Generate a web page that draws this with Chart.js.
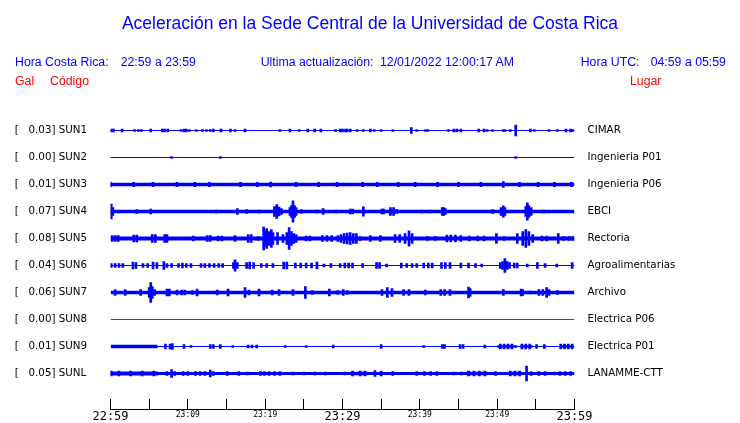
<!DOCTYPE html>
<html>
<head>
<meta charset="utf-8">
<script src="https://cdn.jsdelivr.net/npm/chart.js@4.4.1/dist/chart.umd.min.js"></script>
<style>
  body { margin: 0; background: #fff; }
  #wrap { position: relative; width: 740px; height: 423px; overflow: hidden; }
  #wrap canvas { position: absolute; left: 0; top: 0; }
  .t { position: absolute; white-space: pre; line-height: 1; font-family: "Liberation Sans", Arial, sans-serif; font-size: 12.3px; }
  .blue { color: #0000ff; }
  .red { color: #ff0000; }
  #title { left: 0; width: 740px; text-align: center; top: 14.5px; font-size: 17.5px; }
</style>
</head>
<body>
<div id="wrap">
  <canvas id="sismoChart" width="740" height="423"></canvas>
  <div class="t blue" id="title">Aceleración en la Sede Central de la Universidad de Costa Rica</div>
  <div class="t blue" style="left:15px;top:55.6px">Hora Costa Rica:</div>
  <div class="t blue" style="left:120.7px;top:55.6px">22:59 a 23:59</div>
  <div class="t blue" style="left:260.7px;top:55.6px">Ultima actualización:</div>
  <div class="t blue" style="left:380px;top:55.6px">12/01/2022 12:00:17 AM</div>
  <div class="t blue" style="left:580.7px;top:55.6px">Hora UTC:</div>
  <div class="t blue" style="left:650.7px;top:55.6px">04:59 a 05:59</div>
  <div class="t red" style="left:15px;top:74.6px">Gal</div>
  <div class="t red" style="left:50px;top:74.6px">Código</div>
  <div class="t red" style="left:630px;top:74.6px">Lugar</div>
</div>
<script>
// estaciones (de arriba hacia abajo)
const codes = ['SUN1', 'SUN2', 'SUN3', 'SUN4', 'SUN5', 'SUN6', 'SUN7', 'SUN8', 'SUN9', 'SUNL'];
const peakGal = [0.03, 0.00, 0.01, 0.07, 0.08, 0.04, 0.06, 0.00, 0.01, 0.05];
const places = ['CIMAR', 'Ingenieria P01', 'Ingenieria P06', 'EBCI', 'Rectoria', 'Agroalimentarias',
  'Archivo', 'Electrica P06', 'Electrica P01', 'LANAMME-CTT'];
const timeLabels = ['22:59', '23:09', '23:19', '23:29', '23:39', '23:49', '23:59'];

// nivel de ruido de fondo (media amplitud) por estacion
const noise = [0, 0, 1.8, 1.7, 1.9, 0, 1.7, 0, 0, 1.5];

// tramos de ruido continuo: [minuto inicio, minuto fin, media amplitud]
const sun9Bursts = [[0, 6.1, 1.7], [50.0, 52.6, 1.3], [53.0, 54.6, 1.3], [58.3, 59.9, 1.3]];
const sunlBursts = [[0, 6.2, 2.0], [31.0, 33.3, 1.8], [46.0, 48.8, 1.8], [51.5, 53.2, 1.8]];

// eventos: [minuto desde 22:59, media amplitud]
const sun1Events = [[0.1,1.5],[0.4,1.5],[1.5,1.5],[3.1,1],[3.6,1],[4.0,1],[5.2,1.5],[6.7,1.5],[7.0,1.5],[7.4,1.5],
  [9.1,1],[9.5,1.5],[9.8,1.5],[10.2,1],[11.1,1],[11.9,1],[12.4,1],[12.9,1],[13.3,1.5],[14.3,1.5],[15.5,1.5],[16.1,1],
  [17.4,1.5],[21.9,1],[23.2,1.5],[24.4,1],[25.5,1.5],[26.4,1.5],[27.2,1.5],[29.1,1],[29.7,1.5],[30.0,1.5],[30.4,1.5],
  [30.6,1.5],[31.0,1.5],[31.9,1],[32.7,1],[33.6,1.5],[34.1,1],[35.0,1],[36.5,1],[38.9,3],[39.6,1],[40.7,1],[41.0,1],
  [43.7,1],[44.4,1.5],[44.8,1.5],[45.3,1.5],[47.6,1.5],[48.3,1.5],[48.7,1],[49.4,1],[50.8,1],[51.0,1],[51.7,1],
  [52.4,5.5],[54.3,1.5],[54.8,1],[56.7,1],[57.8,1],[58.9,1.5],[59.5,1.5],[59.8,1]];
const sun2Events = [[7.9,1],[14.2,1],[52.4,1]];
const sun3Events = [[0,2.1],[3.0,2.1],[5.5,2.1],[8.6,2.1],[10.9,2.1],[12.8,2.1],[16.8,2.1],[19.0,2.1],[20.7,2.5],
  [24.0,2.1],[26.9,2.1],[29.3,2.1],[32.6,2.1],[34.5,2.1],[37.2,2.1],[39.4,2.1],[42.3,2.1],[45.0,2.1],[47.9,2.1],
  [50.8,3],[52.9,2.1],[55.3,2.1],[57.4,2.1],[59.6,2.1]];
const sun4Events = [[0.1,7.3],[0.3,4],[3.4,2],[5.2,2.5],[13.7,1.5],[16.4,3],[17.6,2],[19.2,1.5],[21.2,5],[21.5,7],
  [21.8,4.5],[22.1,3],[23.2,4],[23.4,6],[23.6,10.7],[23.8,6],[24.0,4],[24.7,2],[26.7,1.5],[27.5,3],[29.2,1.5],
  [31.0,2.5],[31.3,2.5],[32.7,4.7],[35.1,2.5],[35.3,2.5],[36.2,4],[36.6,4],[37.0,2],[40.2,1.3],[41.3,1.3],[42.9,4],
  [43.1,4],[43.3,3],[48.2,1.2],[49.4,2],[50.5,4],[50.8,5.7],[51.0,4],[52.4,1.2],[53.7,5],[53.9,8.7],[54.1,6],
  [54.4,4],[56.0,1.5],[59.7,1.2]];
const sun5Events = [[0.2,3],[0.6,3],[1.0,3],[3.0,3.5],[3.4,3.5],[5.4,4],[5.8,4],[7.0,4],[7.3,4],[10.7,2.5],[12.5,3],
  [12.9,3],[13.9,2.5],[14.4,2.5],[16.1,3],[17.8,4],[18.2,4],[19.1,2],[19.8,11.5],[20.0,8],[20.2,10],[20.5,7],
  [20.8,9],[21.0,6],[21.6,6],[22.3,4],[22.8,6],[23.1,11],[23.4,7],[23.7,5],[24.0,4],[25.3,2.5],[25.8,2.5],[27.4,3],
  [28.0,3],[28.6,3],[29.4,3],[29.8,4],[30.2,5],[30.6,5.5],[31.0,6],[31.4,5],[31.8,5],[32.3,2],[33.6,3],[34.9,3],
  [36.8,4],[37.4,4],[38.1,5],[38.6,7.7],[39.0,5],[41.0,2],[42.0,2],[43.5,3.5],[44.0,3.5],[44.6,3.5],[45.3,3],
  [46.4,2.5],[47.5,2.5],[48.3,2.5],[49.9,5],[50.9,2],[52.6,5],[53.3,7],[53.7,9],[54.1,7],[54.6,4],[55.8,2.5],
  [56.4,2.5],[57.9,5],[58.6,2],[59.3,2],[59.8,2]];
const sun6Events = [[0.1,2],[0.6,2],[1.1,2],[1.6,2],[2.9,3.5],[3.3,3],[4.2,2],[4.8,2],[5.5,3.5],[6.0,3],[6.9,4],
  [7.3,2],[7.9,2],[8.8,2],[9.3,2.5],[9.8,2],[10.4,2],[11.7,2],[12.2,2],[12.8,2],[13.4,2],[14.0,2],[14.5,2],[15.9,3],
  [16.1,5.7],[16.4,3],[17.6,3],[18.0,3.5],[18.5,3],[19.5,2],[20.2,2],[21.0,2],[22.4,3.5],[22.8,3.5],[23.9,2.5],
  [24.6,2.5],[25.3,2.5],[26.0,2.5],[26.7,3.5],[27.6,1.5],[28.5,2],[29.7,2],[30.3,2.5],[30.8,2.5],[31.3,2.5],
  [32.6,2],[34.4,3],[34.8,3],[35.7,1.5],[37.6,2.5],[38.3,2],[39.0,2],[39.6,2],[40.5,2.5],[41.1,2.5],[41.6,2.5],
  [42.8,3],[43.3,3],[43.9,3],[45.3,2.5],[46.3,2.5],[47.2,2],[48.0,1.5],[50.4,3],[50.7,4],[51.0,7],[51.3,4],
  [51.6,3],[52.2,2.5],[52.6,2.5],[53.9,1.5],[55.2,3],[56.2,2],[57.7,1.5],[59.7,3]];
const sun7Events = [[0.6,3],[1.9,3],[3.9,3],[5.0,5],[5.2,10],[5.4,6],[5.7,3],[7.3,3.5],[7.6,3.5],[8.6,2.5],[9.2,2.5],
  [9.6,2.5],[10.6,2],[11.2,3.5],[13.8,2.5],[15.2,3.5],[17.4,5],[17.9,2.5],[19.2,3.5],[20.9,2.5],[21.8,3],[23.6,3],
  [25.2,6],[26.1,2],[28.3,3.5],[29.4,2],[30.1,3],[30.6,2],[35.1,3],[35.8,5],[36.4,4],[37.9,3],[38.6,3],[40.7,2.5],
  [42.7,3],[43.2,3],[43.9,3],[46.3,5.5],[46.5,4],[49.2,1],[50.8,3],[53.1,3.5],[53.3,3],[54.3,1.5],[55.4,3],
  [55.9,3],[56.4,5],[56.7,3],[57.8,2]];
const sun8Events = [];
const sun9Events = [[7.1,2.5],[7.7,2.5],[8.0,3],[9.5,2],[10.4,1],[12.9,2],[13.3,2],[14.2,2],[15.8,1],
  [17.8,1.5],[18.3,1.5],[18.9,1.5],[22.6,1],[25.3,1],[28.8,1.5],[35.0,2],[40.5,1],[42.9,2],[43.2,2],[45.2,2],
  [45.6,2],[48.4,1.5],[50.4,2.5],[50.9,2.5],[51.4,2.5],[51.9,2.5],[53.2,2.5],[53.7,2.5],[54.2,2.5],[55.1,2],
  [56.1,2],[58.2,2.5],[58.7,2.5],[59.2,2.5],[59.7,2.5]];
const sunlEvents = [[0.1,2.5],[1.1,2.5],[2.6,2.5],[4.1,2.5],[5.6,2.5],
  [7.3,2],[7.9,4],[8.3,2],[9.4,2],[10.0,2],[11.0,2],[11.6,2],[12.2,2],[12.9,3.5],[13.3,2],[15.1,2],[16.6,2],
  [17.7,1.5],[19.4,2],[19.9,2],[20.5,2],[21.2,2],[21.9,2],[23.6,1.5],[25.0,1.5],[26.4,1.5],[27.8,1.5],[30.3,1.5],
  [31.3,2.5],[32.3,2.5],[32.9,2.5],[34.2,3],[35.0,2.5],[36.5,2],[39.6,2],[40.6,2],[41.4,2],[42.2,2],[44.4,1.5],
  [45.4,1.5],[46.3,2.5],[47.0,2.5],[47.7,2.5],[48.4,2.5],[49.8,2],[51.7,2.5],[52.3,2.5],[52.9,2.5],[53.8,7.3],
  [54.4,2],[55.4,2],[56.2,2],[57.4,1.5],[58.1,2],[58.8,2],[59.5,2]];

const allEvents = [sun1Events, sun2Events, sun3Events, sun4Events, sun5Events,
  sun6Events, sun7Events, sun8Events, sun9Events, sunlEvents];
const allBursts = [[], [], [], [], [], [], [], [], sun9Bursts, sunlBursts];

const ROW = 27;          // separacion entre trazas (unidades del eje y)
const Y_MAX = 305.5;
const BLUE = '#0000ff';

const center = (i) => ROW * (i + 1);
const traceColor = (i) => (codes[i] === 'SUN8' ? '#ff0000' : BLUE);

// banda rellena entre c-a y c+a
const band = (i, x0, x1, a) => ({
  type: 'line',
  data: [{ x: x0, y: center(i) + a }, { x: x1, y: center(i) + a }],
  fill: { value: center(i) - a },
  backgroundColor: traceColor(i),
  borderWidth: 0,
  pointRadius: 0,
});

const datasets = [];
codes.forEach((code, i) => {
  const c = center(i);
  if (noise[i] > 0) datasets.push(band(i, 0, 60, noise[i]));
  allBursts[i].forEach(([m0, m1, a]) => datasets.push(band(i, m0, m1, a)));
  datasets.push({
    type: 'line',
    data: [{ x: 0, y: c }, { x: 60, y: c }],
    borderColor: traceColor(i),
    borderWidth: 1,
    pointRadius: 0,
    fill: false,
  });
});

const eventBars = [];
allEvents.forEach((evs, i) => {
  evs.forEach(([m, a]) => eventBars.push({ x: m, y: [center(i) - a, center(i) + a] }));
});
datasets.push({
  type: 'bar',
  data: eventBars,
  backgroundColor: BLUE,
  borderWidth: 0,
  barThickness: 2,
  grouped: false,
});

// marcas del eje de tiempo hacia arriba
const tickMarks = {
  id: 'tickMarks',
  afterDraw(chart) {
    const xs = chart.scales.x;
    const ctx = chart.ctx;
    const bottom = chart.chartArea.bottom;
    ctx.save();
    ctx.strokeStyle = '#000';
    ctx.lineWidth = 1;
    ctx.beginPath();
    xs.ticks.forEach((t) => {
      const px = Math.floor(xs.getPixelForValue(t.value)) + 0.5;
      ctx.moveTo(px, bottom);
      ctx.lineTo(px, bottom - 10);
    });
    ctx.stroke();
    ctx.restore();
  },
};

const rowTicks = (scale) => {
  scale.ticks = codes.map((_, i) => ({ value: center(i) }));
};
const labelFont = { family: 'DejaVu Sans', size: 10.3 };

new Chart(document.getElementById('sismoChart'), {
  type: 'line',
  data: { datasets },
  options: {
    responsive: false,
    animation: false,
    devicePixelRatio: 1,
    layout: { padding: { left: 14.7, right: 0, top: 103.5, bottom: 0 } },
    plugins: { legend: { display: false }, tooltip: { enabled: false } },
    scales: {
      x: {
        type: 'linear',
        min: 0,
        max: 60,
        offset: false,
        grid: { display: false, drawTicks: false },
        border: { display: true, color: '#000', width: 1 },
        ticks: {
          stepSize: 5,
          autoSkip: false,
          maxRotation: 0,
          minRotation: 0,
          padding: 1,
          color: '#000',
          font: (ctx) => ({
            family: 'DejaVu Sans Mono',
            size: ctx.tick && ctx.tick.value % 30 === 0 ? 12 : 8,
          }),
          callback: (v) => (v % 10 === 0 ? timeLabels[v / 10] : ''),
        },
        afterFit: (s) => { s.height = 14; s.paddingLeft = 0; s.paddingRight = 0; },
      },
      y: {
        type: 'linear',
        position: 'left',
        reverse: true,
        min: 0,
        max: Y_MAX,
        bounds: 'data',
        grid: { display: false, drawTicks: false },
        border: { display: false },
        afterBuildTicks: rowTicks,
        afterFit: (s) => { s.width = 110.5 - 14.7; s.paddingTop = 0; s.paddingBottom = 0; },
        ticks: {
          autoSkip: false,
          crossAlign: 'far',
          color: '#000',
          font: labelFont,
          callback: (v, idx) => '[   ' + peakGal[idx].toFixed(2) + '] ' + codes[idx],
        },
      },
      y2: {
        type: 'linear',
        position: 'right',
        reverse: true,
        min: 0,
        max: Y_MAX,
        bounds: 'data',
        grid: { display: false, drawTicks: false },
        border: { display: false },
        afterBuildTicks: rowTicks,
        afterFit: (s) => { s.width = 740 - 574.5; s.paddingTop = 0; s.paddingBottom = 0; },
        ticks: {
          autoSkip: false,
          crossAlign: 'near',
          padding: 13,
          color: '#000',
          font: labelFont,
          callback: (v, idx) => places[idx],
        },
      },
    },
  },
  plugins: [tickMarks],
});
</script>
</body>
</html>
